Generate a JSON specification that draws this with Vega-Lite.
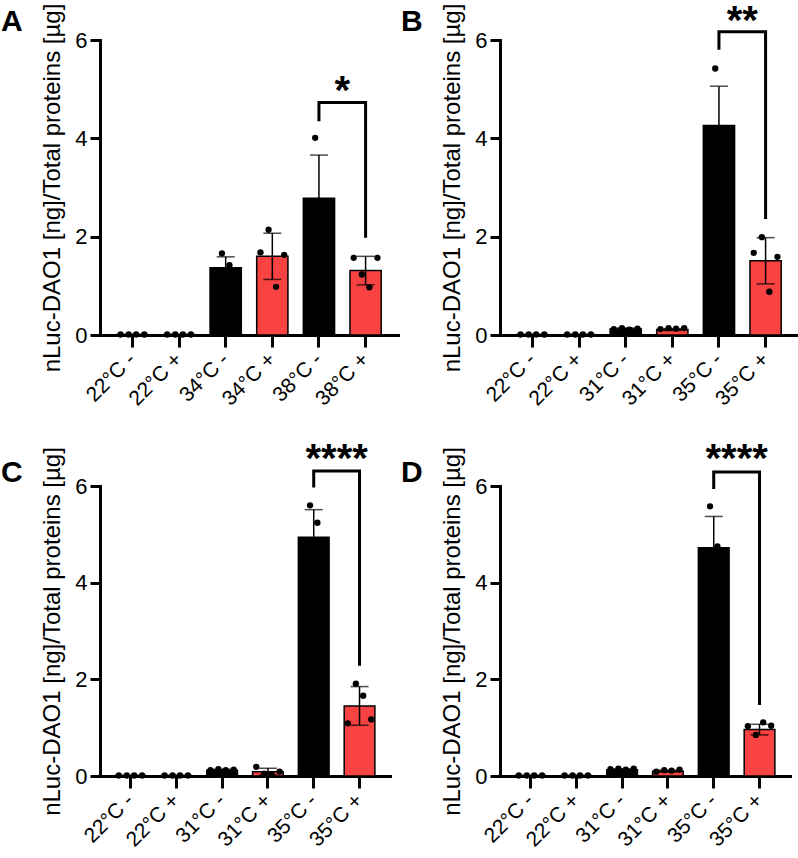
{
  "$schema": "https://vega.github.io/schema/vega-lite/v6.json",
  "padding": {"left": 1, "top": 2, "right": 0, "bottom": 0},
  "background": "white",
  "datasets": {
    "summary": [
      {"panel": "A", "group": "22°C -", "treat": "-", "v": 0.01, "sd": 0},
      {"panel": "A", "group": "22°C +", "treat": "+", "v": 0.01, "sd": 0},
      {"panel": "A", "group": "34°C -", "treat": "-", "v": 1.37, "sd": 0.22},
      {"panel": "A", "group": "34°C +", "treat": "+", "v": 1.60, "sd": 0.47},
      {"panel": "A", "group": "38°C -", "treat": "-", "v": 2.78, "sd": 0.88},
      {"panel": "A", "group": "38°C +", "treat": "+", "v": 1.31, "sd": 0.29},
      {"panel": "B", "group": "22°C -", "treat": "-", "v": 0.01, "sd": 0},
      {"panel": "B", "group": "22°C +", "treat": "+", "v": 0.01, "sd": 0},
      {"panel": "B", "group": "31°C -", "treat": "-", "v": 0.12, "sd": 0.02},
      {"panel": "B", "group": "31°C +", "treat": "+", "v": 0.11, "sd": 0.02},
      {"panel": "B", "group": "35°C -", "treat": "-", "v": 4.26, "sd": 0.80},
      {"panel": "B", "group": "35°C +", "treat": "+", "v": 1.51, "sd": 0.47},
      {"panel": "C", "group": "22°C -", "treat": "-", "v": 0.01, "sd": 0},
      {"panel": "C", "group": "22°C +", "treat": "+", "v": 0.01, "sd": 0},
      {"panel": "C", "group": "31°C -", "treat": "-", "v": 0.12, "sd": 0.02},
      {"panel": "C", "group": "31°C +", "treat": "+", "v": 0.09, "sd": 0.07},
      {"panel": "C", "group": "35°C -", "treat": "-", "v": 4.94, "sd": 0.57},
      {"panel": "C", "group": "35°C +", "treat": "+", "v": 1.45, "sd": 0.40},
      {"panel": "D", "group": "22°C -", "treat": "-", "v": 0.01, "sd": 0},
      {"panel": "D", "group": "22°C +", "treat": "+", "v": 0.01, "sd": 0},
      {"panel": "D", "group": "31°C -", "treat": "-", "v": 0.13, "sd": 0.02},
      {"panel": "D", "group": "31°C +", "treat": "+", "v": 0.10, "sd": 0.02},
      {"panel": "D", "group": "35°C -", "treat": "-", "v": 4.72, "sd": 0.65},
      {"panel": "D", "group": "35°C +", "treat": "+", "v": 0.96, "sd": 0.11}
    ],
    "points": [
      {"panel": "A", "group": "22°C -", "rep": 1, "v": 0.01}, {"panel": "A", "group": "22°C -", "rep": 2, "v": 0.01}, {"panel": "A", "group": "22°C -", "rep": 3, "v": 0.01}, {"panel": "A", "group": "22°C -", "rep": 4, "v": 0.01},
      {"panel": "A", "group": "22°C +", "rep": 1, "v": 0.01}, {"panel": "A", "group": "22°C +", "rep": 2, "v": 0.01}, {"panel": "A", "group": "22°C +", "rep": 3, "v": 0.01}, {"panel": "A", "group": "22°C +", "rep": 4, "v": 0.01},
      {"panel": "A", "group": "34°C -", "rep": 1, "v": 1.25}, {"panel": "A", "group": "34°C -", "rep": 2, "v": 1.66}, {"panel": "A", "group": "34°C -", "rep": 3, "v": 1.42}, {"panel": "A", "group": "34°C -", "rep": 4, "v": 1.15},
      {"panel": "A", "group": "34°C +", "rep": 1, "v": 1.68}, {"panel": "A", "group": "34°C +", "rep": 2, "v": 2.14}, {"panel": "A", "group": "34°C +", "rep": 3, "v": 0.98}, {"panel": "A", "group": "34°C +", "rep": 4, "v": 1.63},
      {"panel": "A", "group": "38°C -", "rep": 1, "v": 2.4}, {"panel": "A", "group": "38°C -", "rep": 2, "v": 4.01}, {"panel": "A", "group": "38°C -", "rep": 3, "v": 2.5}, {"panel": "A", "group": "38°C -", "rep": 4, "v": 2.2},
      {"panel": "A", "group": "38°C +", "rep": 1, "v": 1.57}, {"panel": "A", "group": "38°C +", "rep": 2, "v": 1.23}, {"panel": "A", "group": "38°C +", "rep": 3, "v": 0.97}, {"panel": "A", "group": "38°C +", "rep": 4, "v": 1.57},
      {"panel": "B", "group": "22°C -", "rep": 1, "v": 0.01}, {"panel": "B", "group": "22°C -", "rep": 2, "v": 0.01}, {"panel": "B", "group": "22°C -", "rep": 3, "v": 0.01}, {"panel": "B", "group": "22°C -", "rep": 4, "v": 0.01},
      {"panel": "B", "group": "22°C +", "rep": 1, "v": 0.01}, {"panel": "B", "group": "22°C +", "rep": 2, "v": 0.01}, {"panel": "B", "group": "22°C +", "rep": 3, "v": 0.01}, {"panel": "B", "group": "22°C +", "rep": 4, "v": 0.01},
      {"panel": "B", "group": "31°C -", "rep": 1, "v": 0.12}, {"panel": "B", "group": "31°C -", "rep": 2, "v": 0.14}, {"panel": "B", "group": "31°C -", "rep": 3, "v": 0.11}, {"panel": "B", "group": "31°C -", "rep": 4, "v": 0.13},
      {"panel": "B", "group": "31°C +", "rep": 1, "v": 0.12}, {"panel": "B", "group": "31°C +", "rep": 2, "v": 0.14}, {"panel": "B", "group": "31°C +", "rep": 3, "v": 0.13}, {"panel": "B", "group": "31°C +", "rep": 4, "v": 0.14},
      {"panel": "B", "group": "35°C -", "rep": 1, "v": 3.9}, {"panel": "B", "group": "35°C -", "rep": 2, "v": 5.42}, {"panel": "B", "group": "35°C -", "rep": 3, "v": 3.9}, {"panel": "B", "group": "35°C -", "rep": 4, "v": 3.8},
      {"panel": "B", "group": "35°C +", "rep": 1, "v": 1.67}, {"panel": "B", "group": "35°C +", "rep": 2, "v": 1.99}, {"panel": "B", "group": "35°C +", "rep": 3, "v": 0.88}, {"panel": "B", "group": "35°C +", "rep": 4, "v": 1.59},
      {"panel": "C", "group": "22°C -", "rep": 1, "v": 0.01}, {"panel": "C", "group": "22°C -", "rep": 2, "v": 0.01}, {"panel": "C", "group": "22°C -", "rep": 3, "v": 0.01}, {"panel": "C", "group": "22°C -", "rep": 4, "v": 0.01},
      {"panel": "C", "group": "22°C +", "rep": 1, "v": 0.01}, {"panel": "C", "group": "22°C +", "rep": 2, "v": 0.01}, {"panel": "C", "group": "22°C +", "rep": 3, "v": 0.01}, {"panel": "C", "group": "22°C +", "rep": 4, "v": 0.01},
      {"panel": "C", "group": "31°C -", "rep": 1, "v": 0.12}, {"panel": "C", "group": "31°C -", "rep": 2, "v": 0.14}, {"panel": "C", "group": "31°C -", "rep": 3, "v": 0.12}, {"panel": "C", "group": "31°C -", "rep": 4, "v": 0.13},
      {"panel": "C", "group": "31°C +", "rep": 1, "v": 0.19}, {"panel": "C", "group": "31°C +", "rep": 2, "v": 0.05}, {"panel": "C", "group": "31°C +", "rep": 3, "v": 0.03}, {"panel": "C", "group": "31°C +", "rep": 4, "v": 0.09},
      {"panel": "C", "group": "35°C -", "rep": 1, "v": 4.5}, {"panel": "C", "group": "35°C -", "rep": 2, "v": 5.6}, {"panel": "C", "group": "35°C -", "rep": 3, "v": 5.24}, {"panel": "C", "group": "35°C -", "rep": 4, "v": 4.42},
      {"panel": "C", "group": "35°C +", "rep": 1, "v": 1.09}, {"panel": "C", "group": "35°C +", "rep": 2, "v": 1.91}, {"panel": "C", "group": "35°C +", "rep": 3, "v": 1.66}, {"panel": "C", "group": "35°C +", "rep": 4, "v": 1.17},
      {"panel": "D", "group": "22°C -", "rep": 1, "v": 0.01}, {"panel": "D", "group": "22°C -", "rep": 2, "v": 0.01}, {"panel": "D", "group": "22°C -", "rep": 3, "v": 0.01}, {"panel": "D", "group": "22°C -", "rep": 4, "v": 0.01},
      {"panel": "D", "group": "22°C +", "rep": 1, "v": 0.01}, {"panel": "D", "group": "22°C +", "rep": 2, "v": 0.01}, {"panel": "D", "group": "22°C +", "rep": 3, "v": 0.01}, {"panel": "D", "group": "22°C +", "rep": 4, "v": 0.01},
      {"panel": "D", "group": "31°C -", "rep": 1, "v": 0.14}, {"panel": "D", "group": "31°C -", "rep": 2, "v": 0.15}, {"panel": "D", "group": "31°C -", "rep": 3, "v": 0.13}, {"panel": "D", "group": "31°C -", "rep": 4, "v": 0.15},
      {"panel": "D", "group": "31°C +", "rep": 1, "v": 0.09}, {"panel": "D", "group": "31°C +", "rep": 2, "v": 0.12}, {"panel": "D", "group": "31°C +", "rep": 3, "v": 0.11}, {"panel": "D", "group": "31°C +", "rep": 4, "v": 0.13},
      {"panel": "D", "group": "35°C -", "rep": 1, "v": 4.3}, {"panel": "D", "group": "35°C -", "rep": 2, "v": 5.58}, {"panel": "D", "group": "35°C -", "rep": 3, "v": 4.75}, {"panel": "D", "group": "35°C -", "rep": 4, "v": 4.25},
      {"panel": "D", "group": "35°C +", "rep": 1, "v": 1.03}, {"panel": "D", "group": "35°C +", "rep": 2, "v": 0.85}, {"panel": "D", "group": "35°C +", "rep": 3, "v": 1.11}, {"panel": "D", "group": "35°C +", "rep": 4, "v": 1.04}
    ],
    "brackets": [
      {"panel": "A", "group": "38°C -", "ord": 1, "v": 4.35}, {"panel": "A", "group": "38°C -", "ord": 2, "v": 4.73}, {"panel": "A", "group": "38°C +", "ord": 3, "v": 4.73}, {"panel": "A", "group": "38°C +", "ord": 4, "v": 1.98},
      {"panel": "B", "group": "35°C -", "ord": 1, "v": 5.80}, {"panel": "B", "group": "35°C -", "ord": 2, "v": 6.17}, {"panel": "B", "group": "35°C +", "ord": 3, "v": 6.17}, {"panel": "B", "group": "35°C +", "ord": 4, "v": 2.36},
      {"panel": "C", "group": "35°C -", "ord": 1, "v": 5.97}, {"panel": "C", "group": "35°C -", "ord": 2, "v": 6.31}, {"panel": "C", "group": "35°C +", "ord": 3, "v": 6.31}, {"panel": "C", "group": "35°C +", "ord": 4, "v": 2.28},
      {"panel": "D", "group": "35°C -", "ord": 1, "v": 5.94}, {"panel": "D", "group": "35°C -", "ord": 2, "v": 6.29}, {"panel": "D", "group": "35°C +", "ord": 3, "v": 6.29}, {"panel": "D", "group": "35°C +", "ord": 4, "v": 1.47}
    ],
    "stars": [
      {"panel": "A", "group": "38°C -", "label": "*", "v": 4.70},
      {"panel": "B", "group": "35°C -", "label": "**", "v": 6.12},
      {"panel": "C", "group": "35°C -", "label": "****", "v": 6.28},
      {"panel": "D", "group": "35°C -", "label": "****", "v": 6.28}
    ]
  },
  "config": {
    "font": "Liberation Sans",
    "view": {"stroke": null},
    "axisY": {"grid": false, "domainWidth": 3, "domainColor": "black", "domainCap": "square", "tickWidth": 3, "tickSize": 10, "tickColor": "black", "labelFontSize": 22, "labelPadding": 3, "labelColor": "black", "titleFontSize": 24, "titleFontWeight": "normal", "titleColor": "black", "titlePadding": 10},
    "axisX": {"labelAngle": -45, "labelAlign": "right", "labelBaseline": "middle", "labelFontSize": 21, "labelPadding": 9, "labelColor": "black", "tickSize": 12, "tickWidth": 3, "tickColor": "black", "domainWidth": 3, "domainColor": "black", "domainCap": "square", "grid": false},
    "title": {"anchor": "start", "frame": "group", "orient": "bottom", "fontSize": 30, "fontWeight": "bold", "color": "black", "offset": 0, "baseline": "alphabetic", "dx": -99},
    "circle": {"size": 40, "opacity": 1, "color": "black"},
    "bar": {"stroke": "black", "strokeWidth": 1.5},
    "line": {"color": "black", "strokeWidth": 3, "strokeJoin": "miter", "strokeCap": "butt"},
    "text": {"fontSize": 40, "fontWeight": "bold", "baseline": "alphabetic", "align": "center", "color": "black"}
  },
  "columns": 2,
  "spacing": {"row": 151, "column": 102},
  "bounds": "flush",
  "concat": [
    {
      "width": 298, "height": 295,
      "title": {"text": "A", "dy": -406},
      "encoding": {
        "x": {"field": "group", "type": "nominal", "sort": ["22°C -", "22°C +", "34°C -", "34°C +", "38°C -", "38°C +"], "scale": {"paddingInner": 0.33, "paddingOuter": 0.36}, "title": null},
        "y": {"field": "v", "type": "quantitative", "scale": {"domain": [0, 6]}, "axis": {"values": [0, 2, 4, 6]}, "title": "nLuc-DAO1 [ng]/Total proteins [µg]"}
      },
      "layer": [
        {"data": {"name": "summary"}, "transform": [{"filter": "datum.panel === 'A'"}], "mark": "bar", "encoding": {"color": {"field": "treat", "type": "nominal", "scale": {"domain": ["-", "+"], "range": ["#000000", "#f94242"]}, "legend": null}}},
        {"data": {"name": "summary"}, "transform": [{"filter": "datum.panel === 'A'"}], "mark": {"type": "errorbar", "ticks": true, "size": 18, "thickness": 1.5, "color": "black"}, "encoding": {"yError": {"field": "sd"}}},
        {"data": {"name": "points"}, "transform": [{"filter": "datum.panel === 'A' && datum.rep === 1"}], "mark": "circle", "encoding": {"x": {"field": "group", "type": "nominal", "sort": ["22°C -", "22°C +", "34°C -", "34°C +", "38°C -", "38°C +"], "bandPosition": 0.12, "title": null}}},
        {"data": {"name": "points"}, "transform": [{"filter": "datum.panel === 'A' && datum.rep === 2"}], "mark": "circle", "encoding": {"x": {"field": "group", "type": "nominal", "sort": ["22°C -", "22°C +", "34°C -", "34°C +", "38°C -", "38°C +"], "bandPosition": 0.38, "title": null}}},
        {"data": {"name": "points"}, "transform": [{"filter": "datum.panel === 'A' && datum.rep === 3"}], "mark": "circle", "encoding": {"x": {"field": "group", "type": "nominal", "sort": ["22°C -", "22°C +", "34°C -", "34°C +", "38°C -", "38°C +"], "bandPosition": 0.62, "title": null}}},
        {"data": {"name": "points"}, "transform": [{"filter": "datum.panel === 'A' && datum.rep === 4"}], "mark": "circle", "encoding": {"x": {"field": "group", "type": "nominal", "sort": ["22°C -", "22°C +", "34°C -", "34°C +", "38°C -", "38°C +"], "bandPosition": 0.88, "title": null}}},
        {"data": {"name": "brackets"}, "transform": [{"filter": "datum.panel === 'A'"}], "mark": "line", "encoding": {"order": {"field": "ord", "type": "quantitative"}}},
        {"data": {"name": "stars"}, "transform": [{"filter": "datum.panel === 'A'"}], "mark": "text", "encoding": {"x": {"field": "group", "type": "nominal", "sort": ["22°C -", "22°C +", "34°C -", "34°C +", "38°C -", "38°C +"], "bandPosition": 1.246, "title": null}, "text": {"field": "label"}}}
      ]
    },
    {
      "width": 298, "height": 295,
      "title": {"text": "B", "dy": -406},
      "encoding": {
        "x": {"field": "group", "type": "nominal", "sort": ["22°C -", "22°C +", "31°C -", "31°C +", "35°C -", "35°C +"], "scale": {"paddingInner": 0.33, "paddingOuter": 0.36}, "title": null},
        "y": {"field": "v", "type": "quantitative", "scale": {"domain": [0, 6]}, "axis": {"values": [0, 2, 4, 6]}, "title": "nLuc-DAO1 [ng]/Total proteins [µg]"}
      },
      "layer": [
        {"data": {"name": "summary"}, "transform": [{"filter": "datum.panel === 'B'"}], "mark": "bar", "encoding": {"color": {"field": "treat", "type": "nominal", "scale": {"domain": ["-", "+"], "range": ["#000000", "#f94242"]}, "legend": null}}},
        {"data": {"name": "summary"}, "transform": [{"filter": "datum.panel === 'B'"}], "mark": {"type": "errorbar", "ticks": true, "size": 18, "thickness": 1.5, "color": "black"}, "encoding": {"yError": {"field": "sd"}}},
        {"data": {"name": "points"}, "transform": [{"filter": "datum.panel === 'B' && datum.rep === 1"}], "mark": "circle", "encoding": {"x": {"field": "group", "type": "nominal", "sort": ["22°C -", "22°C +", "31°C -", "31°C +", "35°C -", "35°C +"], "bandPosition": 0.12, "title": null}}},
        {"data": {"name": "points"}, "transform": [{"filter": "datum.panel === 'B' && datum.rep === 2"}], "mark": "circle", "encoding": {"x": {"field": "group", "type": "nominal", "sort": ["22°C -", "22°C +", "31°C -", "31°C +", "35°C -", "35°C +"], "bandPosition": 0.38, "title": null}}},
        {"data": {"name": "points"}, "transform": [{"filter": "datum.panel === 'B' && datum.rep === 3"}], "mark": "circle", "encoding": {"x": {"field": "group", "type": "nominal", "sort": ["22°C -", "22°C +", "31°C -", "31°C +", "35°C -", "35°C +"], "bandPosition": 0.62, "title": null}}},
        {"data": {"name": "points"}, "transform": [{"filter": "datum.panel === 'B' && datum.rep === 4"}], "mark": "circle", "encoding": {"x": {"field": "group", "type": "nominal", "sort": ["22°C -", "22°C +", "31°C -", "31°C +", "35°C -", "35°C +"], "bandPosition": 0.88, "title": null}}},
        {"data": {"name": "brackets"}, "transform": [{"filter": "datum.panel === 'B'"}], "mark": "line", "encoding": {"order": {"field": "ord", "type": "quantitative"}}},
        {"data": {"name": "stars"}, "transform": [{"filter": "datum.panel === 'B'"}], "mark": "text", "encoding": {"x": {"field": "group", "type": "nominal", "sort": ["22°C -", "22°C +", "31°C -", "31°C +", "35°C -", "35°C +"], "bandPosition": 1.246, "title": null}, "text": {"field": "label"}}}
      ]
    },
    {
      "width": 290, "height": 290,
      "title": {"text": "C", "dy": -396},
      "encoding": {
        "x": {"field": "group", "type": "nominal", "sort": ["22°C -", "22°C +", "31°C -", "31°C +", "35°C -", "35°C +"], "scale": {"paddingInner": 0.33, "paddingOuter": 0.33}, "title": null},
        "y": {"field": "v", "type": "quantitative", "scale": {"domain": [0, 6]}, "axis": {"values": [0, 2, 4, 6]}, "title": "nLuc-DAO1 [ng]/Total proteins [µg]"}
      },
      "layer": [
        {"data": {"name": "summary"}, "transform": [{"filter": "datum.panel === 'C'"}], "mark": "bar", "encoding": {"color": {"field": "treat", "type": "nominal", "scale": {"domain": ["-", "+"], "range": ["#000000", "#f94242"]}, "legend": null}}},
        {"data": {"name": "summary"}, "transform": [{"filter": "datum.panel === 'C'"}], "mark": {"type": "errorbar", "ticks": true, "size": 18, "thickness": 1.5, "color": "black"}, "encoding": {"yError": {"field": "sd"}}},
        {"data": {"name": "points"}, "transform": [{"filter": "datum.panel === 'C' && datum.rep === 1"}], "mark": "circle", "encoding": {"x": {"field": "group", "type": "nominal", "sort": ["22°C -", "22°C +", "31°C -", "31°C +", "35°C -", "35°C +"], "bandPosition": 0.12, "title": null}}},
        {"data": {"name": "points"}, "transform": [{"filter": "datum.panel === 'C' && datum.rep === 2"}], "mark": "circle", "encoding": {"x": {"field": "group", "type": "nominal", "sort": ["22°C -", "22°C +", "31°C -", "31°C +", "35°C -", "35°C +"], "bandPosition": 0.38, "title": null}}},
        {"data": {"name": "points"}, "transform": [{"filter": "datum.panel === 'C' && datum.rep === 3"}], "mark": "circle", "encoding": {"x": {"field": "group", "type": "nominal", "sort": ["22°C -", "22°C +", "31°C -", "31°C +", "35°C -", "35°C +"], "bandPosition": 0.62, "title": null}}},
        {"data": {"name": "points"}, "transform": [{"filter": "datum.panel === 'C' && datum.rep === 4"}], "mark": "circle", "encoding": {"x": {"field": "group", "type": "nominal", "sort": ["22°C -", "22°C +", "31°C -", "31°C +", "35°C -", "35°C +"], "bandPosition": 0.88, "title": null}}},
        {"data": {"name": "brackets"}, "transform": [{"filter": "datum.panel === 'C'"}], "mark": "line", "encoding": {"order": {"field": "ord", "type": "quantitative"}}},
        {"data": {"name": "stars"}, "transform": [{"filter": "datum.panel === 'C'"}], "mark": "text", "encoding": {"x": {"field": "group", "type": "nominal", "sort": ["22°C -", "22°C +", "31°C -", "31°C +", "35°C -", "35°C +"], "bandPosition": 1.246, "title": null}, "text": {"field": "label"}}}
      ]
    },
    {
      "width": 290, "height": 290,
      "title": {"text": "D", "dy": -396},
      "encoding": {
        "x": {"field": "group", "type": "nominal", "sort": ["22°C -", "22°C +", "31°C -", "31°C +", "35°C -", "35°C +"], "scale": {"paddingInner": 0.33, "paddingOuter": 0.33}, "title": null},
        "y": {"field": "v", "type": "quantitative", "scale": {"domain": [0, 6]}, "axis": {"values": [0, 2, 4, 6]}, "title": "nLuc-DAO1 [ng]/Total proteins [µg]"}
      },
      "layer": [
        {"data": {"name": "summary"}, "transform": [{"filter": "datum.panel === 'D'"}], "mark": "bar", "encoding": {"color": {"field": "treat", "type": "nominal", "scale": {"domain": ["-", "+"], "range": ["#000000", "#f94242"]}, "legend": null}}},
        {"data": {"name": "summary"}, "transform": [{"filter": "datum.panel === 'D'"}], "mark": {"type": "errorbar", "ticks": true, "size": 18, "thickness": 1.5, "color": "black"}, "encoding": {"yError": {"field": "sd"}}},
        {"data": {"name": "points"}, "transform": [{"filter": "datum.panel === 'D' && datum.rep === 1"}], "mark": "circle", "encoding": {"x": {"field": "group", "type": "nominal", "sort": ["22°C -", "22°C +", "31°C -", "31°C +", "35°C -", "35°C +"], "bandPosition": 0.12, "title": null}}},
        {"data": {"name": "points"}, "transform": [{"filter": "datum.panel === 'D' && datum.rep === 2"}], "mark": "circle", "encoding": {"x": {"field": "group", "type": "nominal", "sort": ["22°C -", "22°C +", "31°C -", "31°C +", "35°C -", "35°C +"], "bandPosition": 0.38, "title": null}}},
        {"data": {"name": "points"}, "transform": [{"filter": "datum.panel === 'D' && datum.rep === 3"}], "mark": "circle", "encoding": {"x": {"field": "group", "type": "nominal", "sort": ["22°C -", "22°C +", "31°C -", "31°C +", "35°C -", "35°C +"], "bandPosition": 0.62, "title": null}}},
        {"data": {"name": "points"}, "transform": [{"filter": "datum.panel === 'D' && datum.rep === 4"}], "mark": "circle", "encoding": {"x": {"field": "group", "type": "nominal", "sort": ["22°C -", "22°C +", "31°C -", "31°C +", "35°C -", "35°C +"], "bandPosition": 0.88, "title": null}}},
        {"data": {"name": "brackets"}, "transform": [{"filter": "datum.panel === 'D'"}], "mark": "line", "encoding": {"order": {"field": "ord", "type": "quantitative"}}},
        {"data": {"name": "stars"}, "transform": [{"filter": "datum.panel === 'D'"}], "mark": "text", "encoding": {"x": {"field": "group", "type": "nominal", "sort": ["22°C -", "22°C +", "31°C -", "31°C +", "35°C -", "35°C +"], "bandPosition": 1.246, "title": null}, "text": {"field": "label"}}}
      ]
    }
  ]
}
